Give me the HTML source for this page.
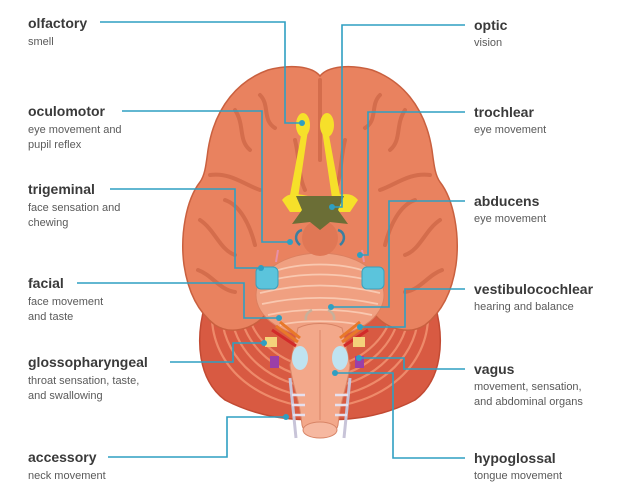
<!DOCTYPE html>
<html><head><meta charset="utf-8"><style>
html,body{margin:0;padding:0;background:#fff;width:631px;height:494px;overflow:hidden}
svg{display:block}
.t{font-family:"Liberation Sans",sans-serif;font-size:14px;font-weight:bold;fill:#3a3a3a}
.s{font-family:"Liberation Sans",sans-serif;font-size:11px;fill:#5a5a5a}
.l{fill:none;stroke:#2f9fc2;stroke-width:1.6}
.d{fill:#2f9fc2}
</style></head><body>
<svg width="631" height="494" viewBox="0 0 631 494">
<!-- cerebellum -->
<path d="M205,305 C195,340 198,380 225,400 C260,418 290,420 320,420 C350,420 380,418 415,400 C442,380 445,340 435,305 Z" fill="#d85a42" stroke="#c24a33" stroke-width="1.5"/>
<g fill="none" stroke="#ee8a6a" stroke-width="2.2">
<path d="M212,320 C215,370 260,405 320,408 C380,405 425,370 428,320"/>
<path d="M222,318 C225,360 265,395 320,398 C375,395 415,360 418,318"/>
<path d="M232,318 C236,352 270,386 320,388 C370,386 404,352 408,318"/>
<path d="M242,320 C248,345 275,376 320,378 C365,376 392,345 398,320"/>
<path d="M252,325 C260,342 282,366 320,368 C358,366 380,342 388,325"/>
</g>
<!-- cerebrum -->
<path d="M320,76 C312,66 290,64 268,70 C240,80 215,105 208,150 C206,165 205,175 200,182 C186,200 180,235 184,265 C188,292 198,312 215,325 C230,335 252,330 265,315 L375,315 C388,330 410,335 425,325 C442,312 452,292 456,265 C460,235 454,200 440,182 C435,175 434,165 432,150 C425,105 400,80 372,70 C350,64 328,66 320,76 Z" fill="#e9825f" stroke="#c9603f" stroke-width="1.5"/>
<g fill="none" stroke="#cf6848" stroke-width="4" stroke-linecap="round" opacity="0.8">
<path d="M235,110 C245,125 238,140 250,150"/><path d="M260,95 C270,105 262,120 275,128"/>
<path d="M405,110 C395,125 402,140 390,150"/><path d="M380,95 C370,105 378,120 365,128"/>
<path d="M210,175 C230,172 245,185 260,190"/><path d="M430,175 C410,172 395,185 380,190"/>
<path d="M200,220 C215,230 220,250 235,255"/><path d="M440,220 C425,230 420,250 405,255"/>
<path d="M198,270 C212,275 220,290 235,292"/><path d="M442,270 C428,275 420,290 405,292"/>
<path d="M320,80 L320,160"/><path d="M295,140 C300,160 298,175 305,190"/><path d="M345,140 C340,160 342,175 335,190"/>
<path d="M225,200 C240,205 250,225 255,245"/><path d="M415,200 C400,205 390,225 385,245"/>
</g>
<!-- pons -->
<ellipse cx="320" cy="295" rx="64" ry="42" fill="#f0a081" stroke="#dc8060"/>
<g fill="none" stroke="#f9c8b0" stroke-width="1.8">
<path d="M272,272 C300,262 340,262 368,272"/><path d="M264,282 C300,272 340,272 376,282"/>
<path d="M260,293 C300,283 340,283 380,293"/><path d="M262,304 C300,296 340,296 378,304"/>
<path d="M268,315 C300,308 340,308 372,315"/><path d="M280,325 C300,320 340,320 360,325"/>
</g>
<ellipse cx="320" cy="238" rx="18" ry="18" fill="#e07755"/>
<!-- brainstem -->
<path d="M298,328 C310,322 330,322 342,328 L350,365 C348,385 340,400 338,425 C336,438 304,438 302,425 C300,400 292,385 290,365 Z" fill="#f3a88a" stroke="#d88466"/>
<ellipse cx="320" cy="430" rx="17" ry="8" fill="#f6b8a0" stroke="#d88466"/>
<path d="M320,330 L320,420" stroke="#d88466" fill="none"/>
<ellipse cx="300" cy="358" rx="8" ry="12" fill="#bfe3f0"/><ellipse cx="340" cy="358" rx="8" ry="12" fill="#bfe3f0"/>
<path d="M290,378 L296,438 M350,378 L344,438" stroke="#c8c4d8" stroke-width="3" fill="none"/>
<g stroke="#e6e0ee" stroke-width="2.5"><path d="M292,395 L305,395 M292,405 L305,405 M293,415 L305,415 M348,395 L335,395 M348,405 L335,405 M347,415 L335,415"/></g>
<!-- nerves -->
<path d="M306,320 C305,315 308,312 312,310 M334,320 C335,315 332,312 328,310" stroke="#c8b09a" stroke-width="2.5" fill="none"/>
<path d="M280,322 L300,338 M276,326 L298,342 M360,322 L340,338 M364,326 L342,342" stroke="#e8782a" stroke-width="3"/>
<path d="M272,330 L296,346 M368,330 L344,346" stroke="#d22a2a" stroke-width="3"/>
<rect x="265" y="337" width="12" height="10" fill="#f4d27a"/><rect x="353" y="337" width="12" height="10" fill="#f4d27a"/>
<rect x="270" y="356" width="9" height="12" fill="#9b3fa8"/><rect x="355" y="356" width="9" height="12" fill="#9b3fa8"/>
<!-- blue trigeminal -->
<rect x="256" y="267" width="22" height="22" rx="5" fill="#5bc4dc" stroke="#3aa0bb"/>
<rect x="362" y="267" width="22" height="22" rx="5" fill="#5bc4dc" stroke="#3aa0bb"/>
<path d="M300,245 C294,240 295,232 302,230 M340,245 C346,240 345,232 338,230" stroke="#3b7fa0" stroke-width="2.5" fill="none"/>
<path d="M276,262 L278,250 M364,262 L362,250" stroke="#e890a8" stroke-width="2"/>
<!-- optic -->
<path d="M302,130 L290,195 L298,198 L308,130 Z M328,130 L340,195 L332,198 L322,130 Z" fill="#f6e02a"/>
<path d="M282,200 C290,190 300,195 320,198 C340,195 350,190 358,200 L350,212 L290,212 Z" fill="#f6e02a"/>
<ellipse cx="303" cy="125" rx="7" ry="12" fill="#f6e02a"/><ellipse cx="327" cy="125" rx="7" ry="12" fill="#f6e02a"/>
<path d="M296,196 L344,196 L338,210 L348,224 L330,222 L320,230 L310,222 L292,224 L302,210 Z" fill="#6b6e36"/>
<!-- leader lines -->
<path class="l" d="M100,22 H285 V123 H302"/>
<path class="l" d="M465,25 H342 V207 H332"/>
<path class="l" d="M122,111 H262 V242 H290"/>
<path class="l" d="M465,112 H368 V255 H360"/>
<path class="l" d="M110,189 H235 V268 H261"/>
<path class="l" d="M465,201 H389 V307 H331"/>
<path class="l" d="M77,283 H244 V318 H279"/>
<path class="l" d="M465,289 H405 V327 H360"/>
<path class="l" d="M170,362 H233 V343 H264"/>
<path class="l" d="M465,369 H404 V358 H359"/>
<path class="l" d="M108,457 H227 V417 H286"/>
<path class="l" d="M465,458 H393 V373 H335"/>
<g class="d">
<circle cx="302" cy="123" r="3"/><circle cx="332" cy="207" r="3"/><circle cx="290" cy="242" r="3"/><circle cx="360" cy="255" r="3"/>
<circle cx="261" cy="268" r="3"/><circle cx="331" cy="307" r="3"/><circle cx="279" cy="318" r="3"/><circle cx="360" cy="327" r="3"/>
<circle cx="264" cy="343" r="3"/><circle cx="359" cy="358" r="3"/><circle cx="286" cy="417" r="3"/><circle cx="335" cy="373" r="3"/>
</g>
<!-- labels left -->
<text class="t" x="28" y="28">olfactory</text><text class="s" x="28" y="45">smell</text>
<text class="t" x="28" y="116">oculomotor</text><text class="s" x="28" y="133">eye movement and</text><text class="s" x="28" y="148">pupil reflex</text>
<text class="t" x="28" y="194">trigeminal</text><text class="s" x="28" y="211">face sensation and</text><text class="s" x="28" y="226">chewing</text>
<text class="t" x="28" y="288">facial</text><text class="s" x="28" y="305">face movement</text><text class="s" x="28" y="320">and taste</text>
<text class="t" x="28" y="367">glossopharyngeal</text><text class="s" x="28" y="384">throat sensation, taste,</text><text class="s" x="28" y="399">and swallowing</text>
<text class="t" x="28" y="462">accessory</text><text class="s" x="28" y="479">neck movement</text>
<!-- labels right -->
<text class="t" x="474" y="30">optic</text><text class="s" x="474" y="46">vision</text>
<text class="t" x="474" y="117">trochlear</text><text class="s" x="474" y="133">eye movement</text>
<text class="t" x="474" y="206">abducens</text><text class="s" x="474" y="222">eye movement</text>
<text class="t" x="474" y="294">vestibulocochlear</text><text class="s" x="474" y="310">hearing and balance</text>
<text class="t" x="474" y="374">vagus</text><text class="s" x="474" y="390">movement, sensation,</text><text class="s" x="474" y="405">and abdominal organs</text>
<text class="t" x="474" y="463">hypoglossal</text><text class="s" x="474" y="479">tongue movement</text>
</svg>
</body></html>
